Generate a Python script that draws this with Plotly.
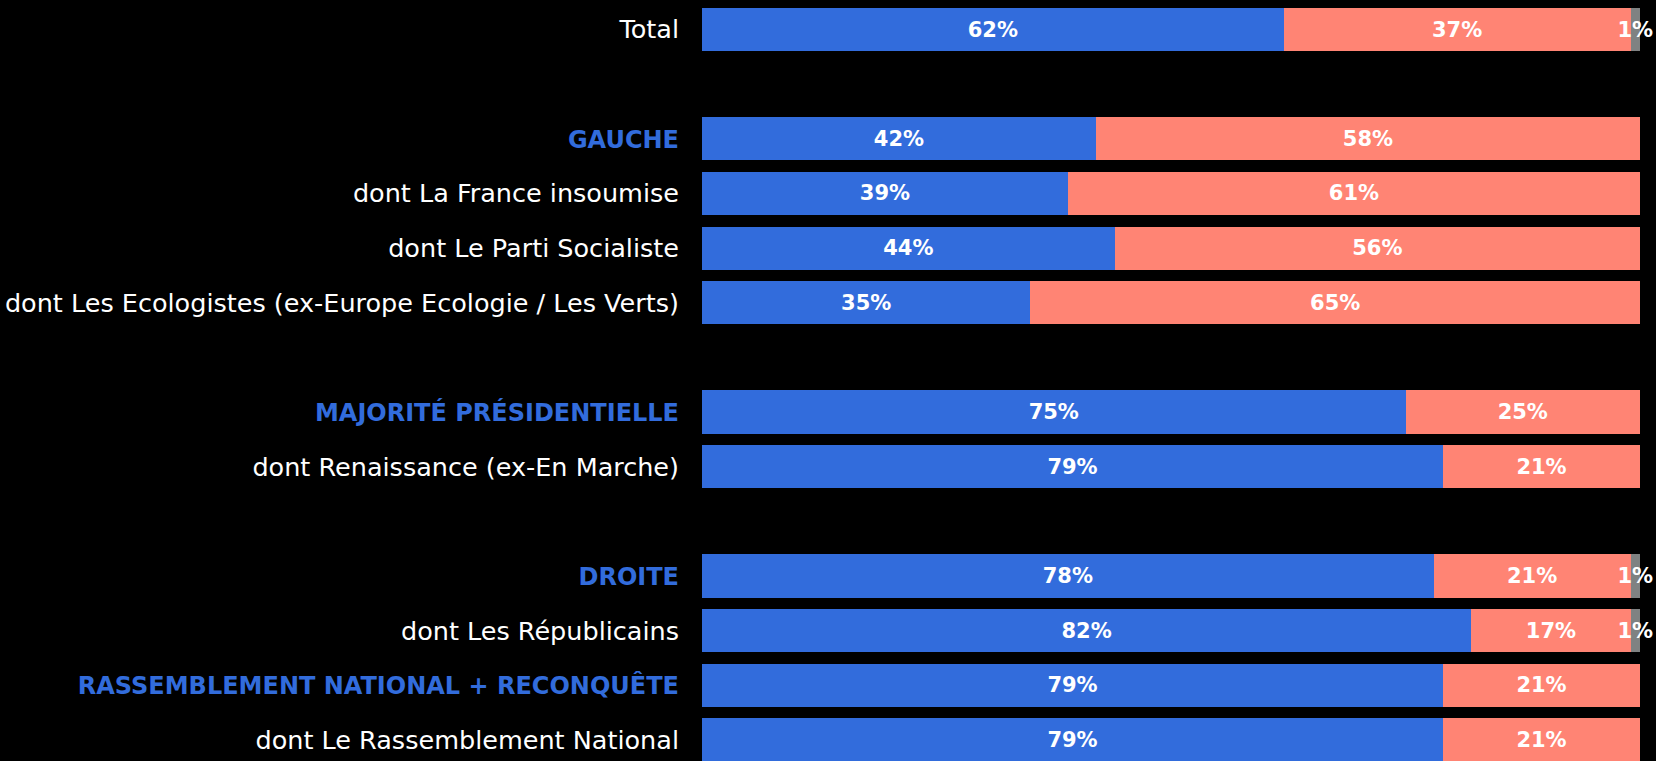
import plotly.graph_objects as go

# ---- data ----
categories = [
    "Total", " ",
    "GAUCHE", "dont La France insoumise", "dont Le Parti Socialiste",
    "dont Les Ecologistes (ex-Europe Ecologie / Les Verts)", "  ",
    "MAJORITÉ PRÉSIDENTIELLE", "dont Renaissance (ex-En Marche)", "   ",
    "DROITE", "dont Les Républicains",
    "RASSEMBLEMENT NATIONAL + RECONQUÊTE", "dont Le Rassemblement National",
]
is_header = [False, False, True, False, False, False, False,
             True, False, False, True, False, True, False]
oui = [62, None, 42, 39, 44, 35, None, 75, 79, None, 78, 82, 79, 79]
non = [37, None, 58, 61, 56, 65, None, 25, 21, None, 21, 17, 21, 21]
nsp = [1, None, None, None, None, None, None, None, None, None, 1, 1, None, None]

BLUE = "#326cdc"
RED = "#ff8474"
GREY = "#7f8282"

def labels(vals):
    return ["" if v is None else f"{v}%" for v in vals]

fig = go.Figure()
for vals, col in [(oui, BLUE), (non, RED), (nsp, GREY)]:
    fig.add_trace(go.Bar(
        y=categories, x=vals, orientation="h",
        marker=dict(color=col, line=dict(width=0)),
        text=labels(vals), textposition="inside", insidetextanchor="middle",
        textangle=0,
        textfont=dict(family="DejaVu Sans", size=21, color="white", weight="bold"),
        width=0.79, showlegend=False, hoverinfo="skip",
        cliponaxis=False,
    ))

ticktext = [
    f"<b><span style='color:{BLUE};font-size:24px'>{c}</span></b>" if h else c
    for c, h in zip(categories, is_header)
]

fig.update_layout(
    barmode="stack",
    width=1656, height=761,
    margin=dict(l=702, r=16, t=0, b=0),
    paper_bgcolor="black", plot_bgcolor="black",
    uniformtext=dict(minsize=21, mode="show"),
    xaxis=dict(range=[0, 100], visible=False, fixedrange=True),
    yaxis=dict(
        categoryorder="array", categoryarray=categories,
        tickvals=categories, ticktext=ticktext,
        range=[13.385, -0.54], autorange=False,
        showgrid=False, zeroline=False, showline=False, ticks="",
        ticklabelstandoff=22,
        tickfont=dict(family="DejaVu Sans", size=25.5, color="white"),
        fixedrange=True,
    ),
)

fig.write_html("out.html", post_script="document.body.style.margin='0';document.body.style.background='black';",
               config={"displayModeBar": False})
